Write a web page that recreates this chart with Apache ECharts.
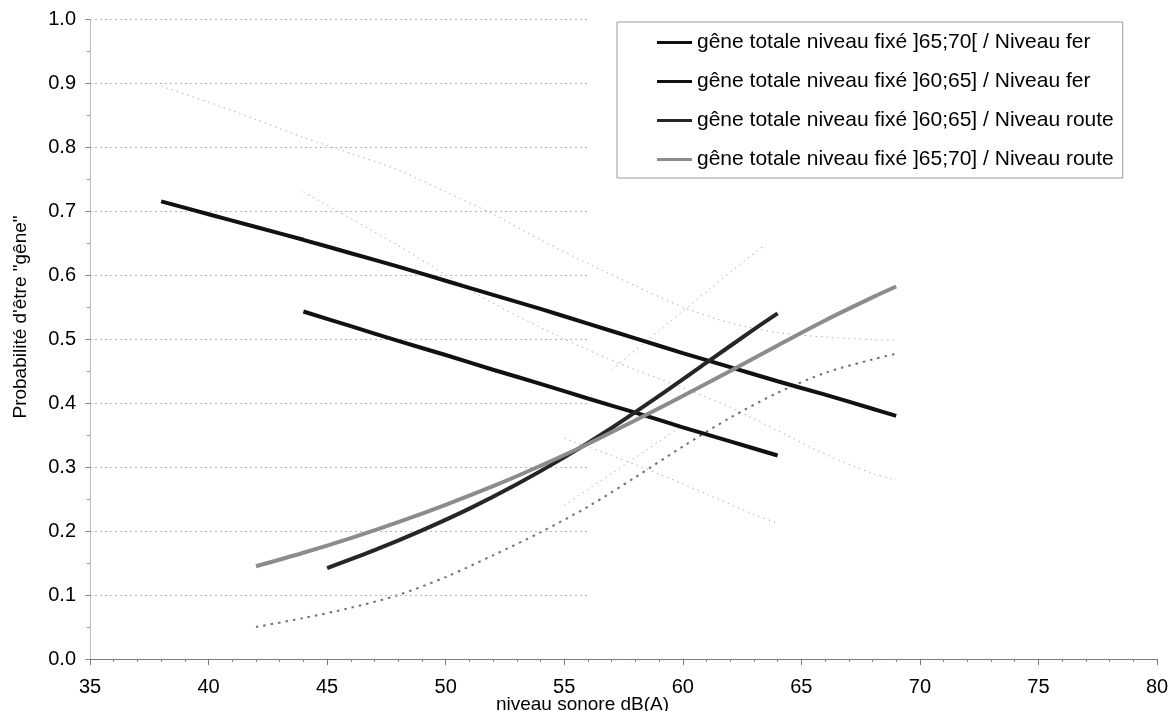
<!DOCTYPE html>
<html>
<head>
<meta charset="utf-8">
<script src="https://cdn.jsdelivr.net/npm/echarts@6/dist/echarts.min.js"></script>
<style>html,body{margin:0;padding:0;background:#fff}#c{width:1170px;height:711px}</style>
</head>
<body>
<div id="c"></div>
<script>
// ---- data ----
const seriesNames = [
  "gêne totale niveau fixé ]65;70[ / Niveau fer",
  "gêne totale niveau fixé ]60;65] / Niveau fer",
  "gêne totale niveau fixé ]60;65] / Niveau route",
  "gêne totale niveau fixé ]65;70] / Niveau route"
];
const xFer6570 = [38,40,42,44,46,48,50,52,54,56,58,60,62,64,66,68,69];
const yFer6570 = [0.715,0.695,0.675,0.655,0.634,0.613,0.591,0.569,0.547,0.524,0.501,0.478,0.456,0.434,0.413,0.391,0.380];
const xFer6065 = [44,46,48,50,52,54,56,58,60,62,64];
const yFer6065 = [0.543,0.520,0.497,0.475,0.452,0.430,0.407,0.385,0.362,0.340,0.318];
const xRoute6065 = [45,47,49,51,53,55,57,59,61,63,64];
const yRoute6065 = [0.142,0.170,0.201,0.235,0.273,0.315,0.361,0.411,0.463,0.515,0.540];
const xRoute6570 = [42,44,46,48,50,52,54,56,58,60,62,64,66,68,69];
const yRoute6570 = [0.145,0.166,0.189,0.214,0.241,0.270,0.302,0.336,0.373,0.411,0.450,0.490,0.529,0.565,0.582];

// faint dotted curves (confidence bounds in the scan)
const xDashRoute = [42,44,46,48,50,52,54,56,58,60,62,64,66,68,69];
const yDashRoute = [0.050,0.064,0.080,0.100,0.128,0.162,0.198,0.238,0.284,0.332,0.377,0.416,0.447,0.468,0.477];
const xDotA = [38,40,42,44,46,48,50,52,54,56,58,60,62,64,66,68,69];
const yDotA = [0.895,0.870,0.843,0.815,0.790,0.764,0.730,0.695,0.655,0.618,0.583,0.550,0.525,0.510,0.503,0.499,0.498];
const xDotB = [44,46,48,50,52,54,56,58,60,62,64,66,68,69];
const yDotB = [0.730,0.688,0.646,0.600,0.556,0.518,0.483,0.452,0.424,0.393,0.357,0.320,0.290,0.280];
const xDotC = [55,57,59,61,63,64];
const yDotC = [0.345,0.318,0.289,0.258,0.226,0.212];
const xDotD = [57,59,61,63,63.5];
const yDotD = [0.452,0.513,0.574,0.634,0.648];
const xDotE = [55,57,59,60];
const yDotE = [0.240,0.290,0.340,0.365];

// axes
const xMin = 35, xMax = 80, xStep = 5;
const yMin = 0, yMax = 1, yStep = 0.1;
const gridLineLevels = [0.1,0.2,0.3,0.4,0.5,0.6,0.7,0.8,0.9,1.0];
const gridLineEnd = 56;

const pairs = (xs, ys) => xs.map((x, i) => [x, ys[i]]);
const FONT = "Liberation Sans, Arial, sans-serif";

const mainColors = ['#111111', '#111111', '#262626', '#8c8c8c'];
const mainData = [
  pairs(xFer6570, yFer6570),
  pairs(xFer6065, yFer6065),
  pairs(xRoute6065, yRoute6065),
  pairs(xRoute6570, yRoute6570)
];

const series = [];
// gridlines that stop part way, as in the reference
series.push({
  type: 'line', data: [], silent: true,
  markLine: {
    silent: true, symbol: ['none','none'], label: {show: false},
    lineStyle: {color: '#b5b5b5', type: [2, 3], width: 1},
    data: gridLineLevels.map(v => [{coord: [xMin, v]}, {coord: [gridLineEnd, v]}])
  }
});
const faint = (xs, ys) => ({
  type: 'line', data: pairs(xs, ys), symbol: 'none', smooth: 0.3, silent: true,
  lineStyle: {color: '#b0b0b0', width: 1, type: [1.5, 4]}, z: 1
});
series.push(faint(xDotA, yDotA));
series.push(faint(xDotB, yDotB));
series.push(faint(xDotC, yDotC));
series.push(faint(xDotD, yDotD));
series.push(faint(xDotE, yDotE));
series.push({
  type: 'line', data: pairs(xDashRoute, yDashRoute), symbol: 'none', smooth: 0.3, silent: true,
  lineStyle: {color: '#707070', width: 2, type: [2.5, 5]}, z: 2
});
seriesNames.forEach((n, i) => {
  series.push({
    name: n, type: 'line', data: mainData[i], symbol: 'none', smooth: 0.3,
    lineStyle: {color: mainColors[i], width: 4}, itemStyle: {color: mainColors[i]}, z: 5
  });
});

const chart = echarts.init(document.getElementById('c'), null, {renderer: 'canvas'});
chart.setOption({
  animation: false,
  backgroundColor: '#ffffff',
  grid: {left: 90, right: 13, top: 19, bottom: 52, containLabel: false, outerBoundsMode: 'none'},
  legend: {
    data: seriesNames, orient: 'vertical', left: 617, top: 22,
    icon: 'rect', itemWidth: 35, itemHeight: 3, itemGap: 18,
    padding: [10, 9, 8, 40],
    borderColor: '#9a9a9a', borderWidth: 1,
    textStyle: {fontFamily: FONT, fontSize: 21, color: '#000', lineHeight: 20},
    selectedMode: false
  },
  xAxis: {
    type: 'value', min: xMin, max: xMax, interval: xStep,
    name: 'niveau sonore dB(A)', nameLocation: 'middle', nameGap: 36, nameMoveOverlap: false,
    nameTextStyle: {fontFamily: FONT, fontSize: 19, color: '#000', padding: [0, 82, 0, 0]},
    axisLine: {lineStyle: {color: '#7a7a7a', width: 1}},
    axisTick: {show: true, length: 6, lineStyle: {color: '#777'}},
    minorTick: {show: true, splitNumber: 5, length: 3, lineStyle: {color: '#888'}},
    axisLabel: {fontFamily: FONT, fontSize: 20, color: '#000', margin: 18},
    splitLine: {show: false}
  },
  yAxis: {
    type: 'value', min: yMin, max: yMax, interval: yStep,
    name: 'Probabilité d\'être "gêne"', nameLocation: 'middle', nameGap: 60, nameMoveOverlap: false,
    nameTextStyle: {fontFamily: FONT, fontSize: 19, color: '#000', padding: [0, 0, 0, 44]},
    axisLine: {show: true, lineStyle: {color: '#b0b0b0', type: 'dotted', width: 1}},
    axisTick: {show: true, length: 5, lineStyle: {color: '#888'}},
    minorTick: {show: true, splitNumber: 2, length: 3, lineStyle: {color: '#999'}},
    axisLabel: {fontFamily: FONT, fontSize: 20, color: '#000', margin: 14,
      formatter: v => v.toFixed(1)},
    splitLine: {show: false}
  },
  series: series
});
</script>
</body>
</html>
